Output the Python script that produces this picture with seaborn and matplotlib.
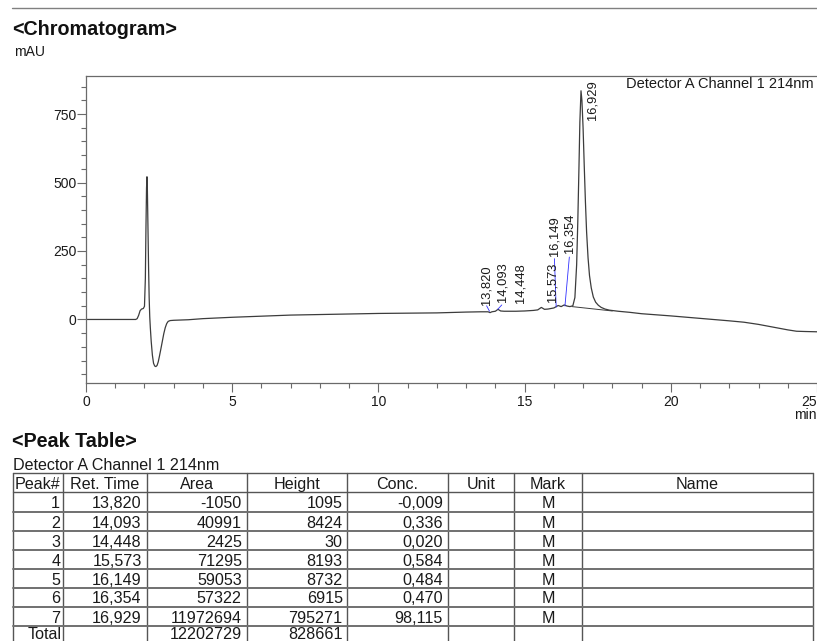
import matplotlib
matplotlib.use("Agg")
import matplotlib.pyplot as plt
from matplotlib.ticker import MultipleLocator, FixedLocator
import numpy as np
import pandas as pd
import seaborn as sns

# ---- detector trace (retention time in min, signal in mAU) ----
time_min = [0.0, 1.0, 1.70, 1.75, 1.80, 1.85, 1.90, 1.96, 2.00, 2.03, 2.05, 2.07, 2.085,
            2.10, 2.12, 2.14, 2.16, 2.18, 2.20, 2.23, 2.27, 2.31, 2.35, 2.39, 2.43, 2.47,
            2.51, 2.56, 2.61, 2.66, 2.71, 2.76, 2.81, 2.88, 3.0, 3.5, 4.0, 5.0, 6.0, 7.0,
            8.0, 9.0, 10.0, 11.0, 12.0, 13.0, 13.5, 13.75, 13.82, 13.88, 14.0, 14.09,
            14.18, 14.3, 14.45, 14.7, 15.0, 15.3, 15.45, 15.573, 15.68, 15.8, 16.0,
            16.149, 16.25, 16.354, 16.45, 16.55, 16.65, 16.72, 16.78, 16.82, 16.86,
            16.89, 16.929, 16.96, 17.0, 17.04, 17.08, 17.12, 17.17, 17.22, 17.28, 17.35,
            17.43, 17.52, 17.62, 17.75, 17.9, 18.2, 18.6, 19.0, 19.5, 20.0, 21.0, 22.0,
            22.5, 23.0, 23.5, 24.0, 24.3, 24.6, 25.0]
signal_mau = [0, 0, 0, 3, 15, 32, 38, 40, 48, 150, 330, 480, 521,
              470, 330, 190, 80, 10, -30, -80, -130, -160, -170, -172, -168, -155,
              -135, -108, -80, -52, -30, -15, -7, -4, -3, -1, 3, 8, 12, 16,
              18, 20, 22, 23, 24, 27, 28, 28, 25, 28, 30, 37,
              31, 30, 30, 30, 31, 33, 35, 44, 37, 38, 42,
              51, 47, 53, 49, 47, 50, 80, 200, 360, 560,
              720, 835, 800, 700, 560, 430, 320, 225, 160, 115, 82,
              63, 52, 44, 38, 34, 30, 26, 21, 17, 13, 4, -5,
              -10, -18, -28, -38, -43, -44, -45]

# integration baseline drawn under the main peak
baseline_t = [16.62, 18.0]
baseline_v = [47, 31]

# ---- peak table ----
peak_no = ["1", "2", "3", "4", "5", "6", "7"]
ret_time = ["13,820", "14,093", "14,448", "15,573", "16,149", "16,354", "16,929"]
area = ["-1050", "40991", "2425", "71295", "59053", "57322", "11972694"]
height = ["1095", "8424", "30", "8193", "8732", "6915", "795271"]
conc = ["-0,009", "0,336", "0,020", "0,584", "0,484", "0,470", "98,115"]
mark = ["M", "M", "M", "M", "M", "M", "M"]
total_area = "12202729"
total_height = "828661"
headers = ["Peak#", "Ret. Time", "Area", "Height", "Conc.", "Unit", "Mark", "Name"]

# ---- figure setup ----
W, H = 817, 641
sns.set_style("ticks")
plt.rcParams["font.family"] = ["Liberation Sans", "DejaVu Sans"]
fig = plt.figure(figsize=(W / 100, H / 100), dpi=100)

# full-figure overlay in pixel coordinates for headings and the table
page = fig.add_axes([0, 0, 1, 1])
page.set_xlim(0, W)
page.set_ylim(H, 0)
page.axis("off")

# chromatogram axes
ax_l, ax_r, ax_t, ax_b = 86, 817, 76, 383
ax = fig.add_axes([ax_l / W, 1 - ax_b / H, (ax_r - ax_l) / W, (ax_b - ax_t) / H])

df = pd.DataFrame({"time": time_min, "mAU": signal_mau})
sns.lineplot(data=df, x="time", y="mAU", ax=ax, color="#3c3c3c", linewidth=0.9,
             estimator=None, sort=False)
ax.plot(baseline_t, baseline_v, color="#3c3c3c", linewidth=0.7)

ax.set_xlim(0, 25)
ax.set_ylim(-232, 889)
ax.set_xlabel("")
ax.set_ylabel("")
ax.xaxis.set_major_locator(MultipleLocator(5))
ax.xaxis.set_minor_locator(MultipleLocator(1))
ax.yaxis.set_major_locator(FixedLocator([0, 250, 500, 750]))
ax.yaxis.set_minor_locator(MultipleLocator(50))

spine_col = "#6a6a6a"
for side in ["left", "bottom", "top"]:
    ax.spines[side].set_color(spine_col)
    ax.spines[side].set_linewidth(0.9)
ax.spines["right"].set_visible(False)
ax.tick_params(axis="both", which="major", length=6.2, width=0.8, color=spine_col,
               labelsize=10, labelcolor="#1a1a1a")
ax.tick_params(axis="both", which="minor", length=3.7, width=0.8, color=spine_col)
ax.tick_params(axis="y", which="major", pad=0.8)
ax.tick_params(axis="x", which="major", pad=2.2)
ax.tick_params(top=False, right=False, which="both")
fig.canvas.draw()
xlabels = ax.get_xticklabels()
for lab in xlabels:
    if lab.get_text() == "25":
        lab.set_horizontalalignment("right")

ax.text(0.995, 0.962, "Detector A Channel 1 214nm", transform=ax.transAxes,
        ha="right", va="baseline", fontsize=10.5, color="#1a1a1a")

# retention-time labels above the peaks
label_x = [13.71, 14.24, 14.86, 15.95, 16.02, 16.52, 17.32]
label_y = [53, 64, 60, 64, 232, 243, 729]
for txt, lx, ly in zip(ret_time, label_x, label_y):
    ax.text(lx, ly, txt, rotation=90, ha="center", va="bottom", fontsize=9.3,
            color="#1a1a1a")

# leader lines from peaks to their labels
leaders = [((13.70, 13.80), (50, 30)), ((14.08, 14.22), (37, 53)),
           ((16.08, 16.02), (45, 222)), ((16.38, 16.53), (49, 228))]
for (lx0, lx1), (ly0, ly1) in leaders:
    ax.plot([lx0, lx1], [ly0, ly1], color="#3030ff", linewidth=0.6)

# ---- headings ----
page.plot([11.7, W], [7.8, 7.8], color="#808080", linewidth=1.0)
page.text(12.5, 35, "<Chromatogram>", fontsize=14.2, fontweight="bold", va="baseline",
          ha="left", color="#111111")
page.text(14, 56.5, "mAU", fontsize=10, va="baseline", ha="left", color="#1a1a1a")
page.text(W - 0.5, 419, "min", fontsize=10, va="baseline", ha="right", color="#1a1a1a")

page.text(12.5, 447, "<Peak Table>", fontsize=14.2, fontweight="bold", va="baseline",
          ha="left", color="#111111")
page.text(13, 470.5, "Detector A Channel 1 214nm", fontsize=11.6, va="baseline",
          ha="left", color="#1a1a1a")

# ---- table grid ----
col_x = [12.7, 62.7, 146.7, 246.7, 347.3, 447.7, 514.3, 581.7, 812.7]
row_y = [473.3, 492.3, 511.7, 531.0, 550.0, 569.0, 588.3, 606.7, 626.0, 645.5]
grid_col = "#555555"
for xv in col_x:
    page.plot([xv, xv], [row_y[0], row_y[-1]], color=grid_col, linewidth=1.0)
for i, yv in enumerate(row_y[:-1]):
    page.plot([col_x[0], col_x[-1]], [yv, yv], color=grid_col if i < 2 else "#707070",
              linewidth=1.0 if i < 2 else 1.4)

fs_tab = 11.6
for j, htxt in enumerate(headers):
    page.text((col_x[j] + col_x[j + 1]) / 2, row_y[1] - 3.2, htxt, fontsize=fs_tab,
              ha="center", va="baseline", color="#1a1a1a")

rows = list(zip(peak_no, ret_time, area, height, conc, mark))
for i, (pn, rt, ar, ht, cc, mk) in enumerate(rows):
    base = row_y[i + 2] - 3.4
    page.text(col_x[1] - 2.5, base, pn, fontsize=fs_tab, ha="right", va="baseline", color="#1a1a1a")
    page.text(col_x[2] - 5, base, rt, fontsize=fs_tab, ha="right", va="baseline", color="#1a1a1a")
    page.text(col_x[3] - 5, base, ar, fontsize=fs_tab, ha="right", va="baseline", color="#1a1a1a")
    page.text(col_x[4] - 4.6, base, ht, fontsize=fs_tab, ha="right", va="baseline", color="#1a1a1a")
    page.text(col_x[5] - 5, base, cc, fontsize=fs_tab, ha="right", va="baseline", color="#1a1a1a")
    page.text((col_x[6] + col_x[7]) / 2, base, mk, fontsize=fs_tab, ha="center", va="baseline",
              color="#1a1a1a")

# totals row, kept clear of the bottom edge
tbase = 638.8
page.text(col_x[1] - 0.5, tbase, "Total", fontsize=fs_tab, ha="right", va="baseline", color="#1a1a1a")
page.text(col_x[3] - 5, tbase, total_area, fontsize=fs_tab, ha="right", va="baseline", color="#1a1a1a")
page.text(col_x[4] - 4.6, tbase, total_height, fontsize=fs_tab, ha="right", va="baseline", color="#1a1a1a")

fig.savefig("out.png", dpi=100)
